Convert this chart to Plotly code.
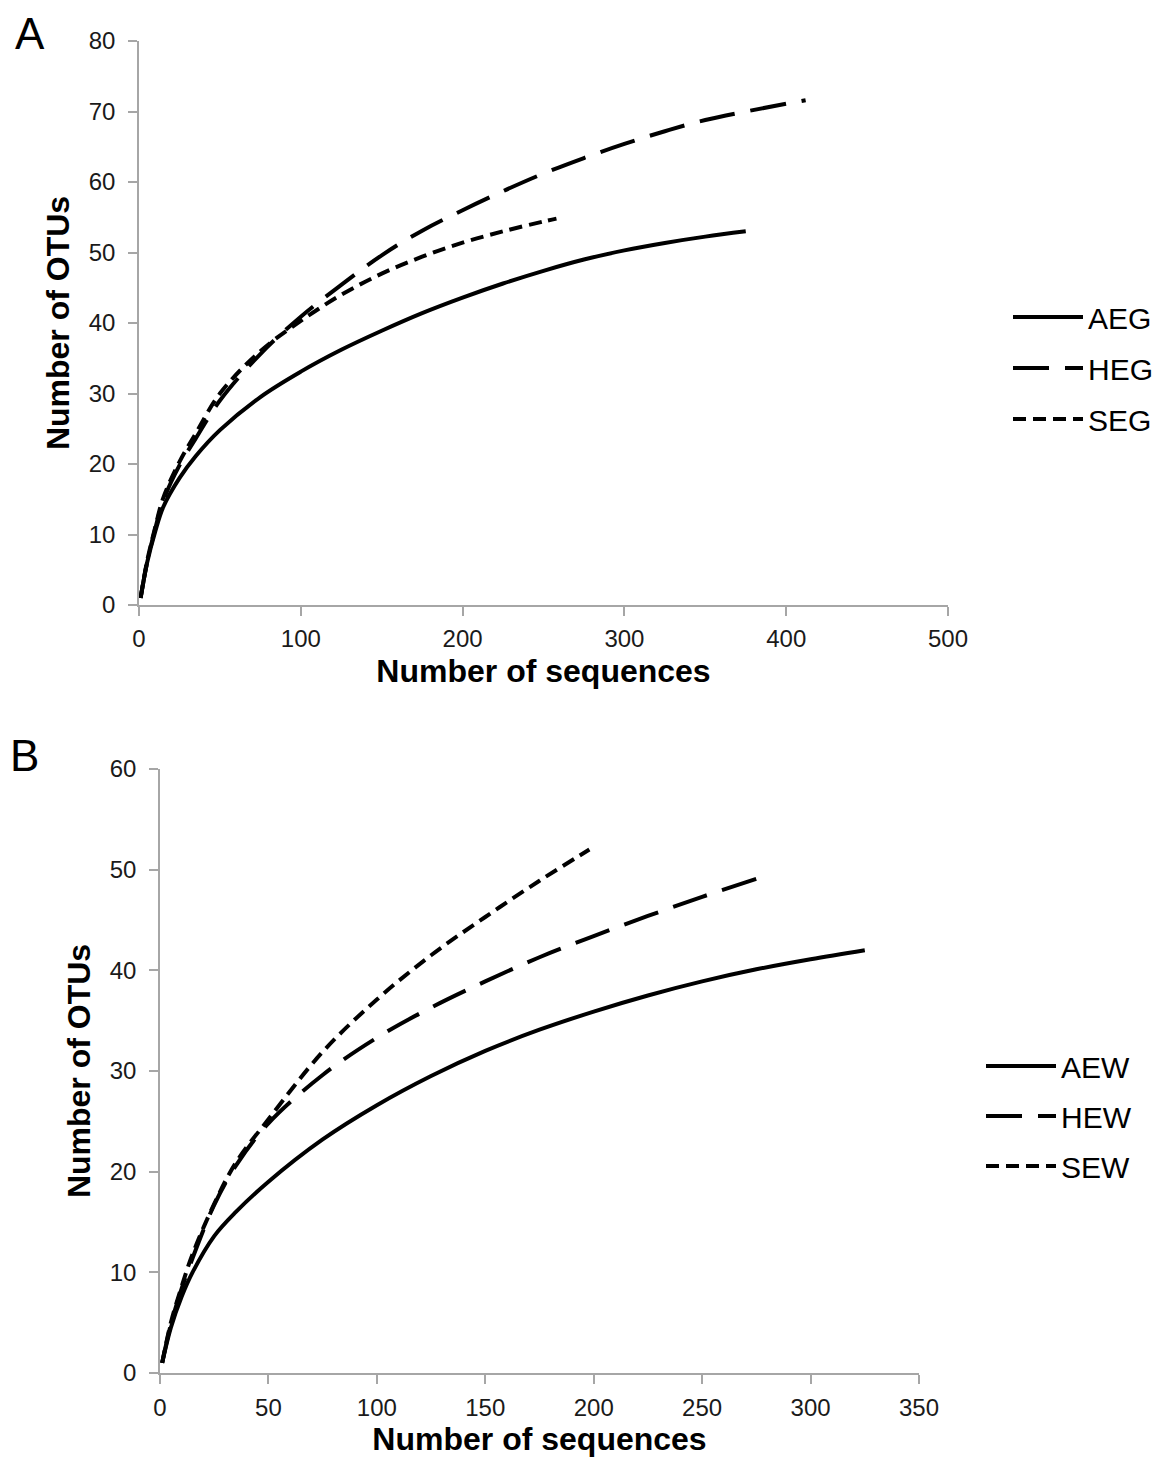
import plotly.graph_objects as go

# ---------------- Panel A data ----------------
aeg_x = [1, 5, 10, 15, 25, 35, 50, 75, 100, 125, 150, 175, 200, 225, 250, 275, 300, 325, 350, 375]
aeg_y = [1, 6, 10.4, 13.9, 18, 21.1, 24.8, 29.5, 33.1, 36.2, 38.9, 41.4, 43.6, 45.6, 47.4, 49.0, 50.3, 51.35, 52.25, 53.0]

heg_x = [1, 5, 10, 15, 25, 35, 50, 75, 100, 125, 150, 175, 200, 225, 250, 275, 300, 325, 350, 375, 412]
heg_y = [1, 6, 10.8, 14.8, 19.8, 23.6, 29, 35.6, 40.9, 45.4, 49.6, 53.1, 56.0, 58.7, 61.2, 63.4, 65.4, 67.2, 68.8, 70.0, 71.6]

seg_x = [1, 5, 10, 15, 25, 35, 50, 75, 100, 125, 150, 175, 200, 225, 250, 258]
seg_y = [1, 6.2, 11, 15.2, 20.3, 24.3, 30, 36.0, 40.3, 44.0, 47.0, 49.4, 51.4, 53.0, 54.4, 54.8]

# ---------------- Panel B data ----------------
aew_x = [1, 5, 10, 15, 25, 35, 50, 75, 100, 125, 150, 175, 200, 225, 250, 275, 300, 325]
aew_y = [1, 4.5, 7.6, 10, 13.6, 16, 19.0, 23.2, 26.6, 29.5, 32.0, 34.1, 35.9, 37.5, 38.9, 40.1, 41.1, 42]

hew_x = [1, 5, 10, 15, 25, 35, 50, 75, 100, 125, 150, 175, 200, 225, 250, 281]
hew_y = [1, 4.8, 8.4, 11.4, 16.7, 20.6, 24.8, 29.6, 33.3, 36.3, 38.9, 41.3, 43.4, 45.4, 47.3, 49.5]

sew_x = [1, 5, 10, 15, 25, 35, 50, 75, 100, 125, 150, 175, 198]
sew_y = [1, 5, 8.6, 11.8, 16.8, 20.9, 25.2, 31.9, 37.1, 41.5, 45.3, 48.9, 52]

xticks_a = [0, 100, 200, 300, 400, 500]
yticks_a = [0, 10, 20, 30, 40, 50, 60, 70, 80]
xticks_b = [0, 50, 100, 150, 200, 250, 300, 350]
yticks_b = [0, 10, 20, 30, 40, 50, 60]

FONT = "Liberation Sans, Arial, sans-serif"
W, H = 1160, 1463

SOLID = "solid"
LONG = "36px,16px"
SHORT = "13px,7px"


def tr(x, y, name, dash, xa, ya, leg, grp):
    return go.Scatter(
        x=x, y=y, name=name, mode="lines",
        line=dict(color="black", width=4, dash=dash, shape="spline", smoothing=1.0),
        xaxis=xa, yaxis=ya, legend=leg, legendgroup=grp, hoverinfo="skip",
    )


fig = go.Figure()
fig.add_trace(tr(aeg_x, aeg_y, "AEG", SOLID, "x", "y", "legend", "a1"))
fig.add_trace(tr(heg_x, heg_y, "HEG", LONG, "x", "y", "legend", "a2"))
fig.add_trace(tr(seg_x, seg_y, "SEG", SHORT, "x", "y", "legend", "a3"))
fig.add_trace(tr(aew_x, aew_y, "AEW", SOLID, "x2", "y2", "legend2", "b1"))
fig.add_trace(tr(hew_x, hew_y, "HEW", LONG, "x2", "y2", "legend2", "b2"))
fig.add_trace(tr(sew_x, sew_y, "SEW", SHORT, "x2", "y2", "legend2", "b3"))

AX = dict(
    showline=True, linecolor="#a6a6a6", linewidth=1.5, ticks="outside", ticklen=9,
    tickcolor="#a6a6a6", tickwidth=1.5, showgrid=False, zeroline=False, automargin=False,
    tickfont=dict(family=FONT, size=24, color="#1a1a1a"), fixedrange=True,
)
TITLE_FONT = dict(family=FONT, size=32, color="black", weight="bold")


def px_x(p):
    return p / W


def px_y(p):
    return 1 - p / H


fig.update_layout(
    width=W, height=H,
    margin=dict(l=0, r=0, t=0, b=0, autoexpand=False),
    paper_bgcolor="white", plot_bgcolor="white",
    font=dict(family=FONT, color="black"),
    xaxis=dict(AX, domain=[px_x(139), px_x(948)], range=[0, 500], tickvals=xticks_a, anchor="y",
               ticklabelstandoff=2,
               title=dict(text="Number of sequences", font=TITLE_FONT, standoff=9)),
    yaxis=dict(AX, domain=[px_y(605), px_y(41)], range=[0, 80], tickvals=yticks_a, anchor="x",
               ticklabelstandoff=8,
               title=dict(text="Number of OTUs", font=TITLE_FONT, standoff=10)),
    xaxis2=dict(AX, domain=[px_x(160), px_x(919)], range=[0, 350], tickvals=xticks_b, anchor="y2",
                ticklabelstandoff=3,
                title=dict(text="Number of sequences", font=TITLE_FONT, standoff=8)),
    yaxis2=dict(AX, domain=[px_y(1373), px_y(769)], range=[0, 60], tickvals=yticks_b, anchor="x2",
                ticklabelstandoff=8,
                title=dict(text="Number of OTUs", font=TITLE_FONT, standoff=10)),
    legend=dict(x=px_x(1008), y=px_y(291), xanchor="left", yanchor="top",
                font=dict(family=FONT, size=30, color="black"), bgcolor="rgba(0,0,0,0)",
                tracegroupgap=9, itemwidth=70, traceorder="grouped"),
    legend2=dict(x=px_x(981), y=px_y(1040), xanchor="left", yanchor="top",
                 font=dict(family=FONT, size=30, color="black"), bgcolor="rgba(0,0,0,0)",
                 tracegroupgap=8, itemwidth=70, traceorder="grouped"),
    showlegend=True,
    annotations=[
        dict(text="A", x=px_x(30), y=px_y(34), xref="paper", yref="paper", showarrow=False,
             xanchor="center", yanchor="middle", font=dict(family=FONT, size=44, color="black")),
        dict(text="B", x=px_x(24), y=px_y(755), xref="paper", yref="paper", showarrow=False,
             xanchor="center", yanchor="middle", font=dict(family=FONT, size=44, color="black")),
    ],
)

fig.write_html("out.html")
